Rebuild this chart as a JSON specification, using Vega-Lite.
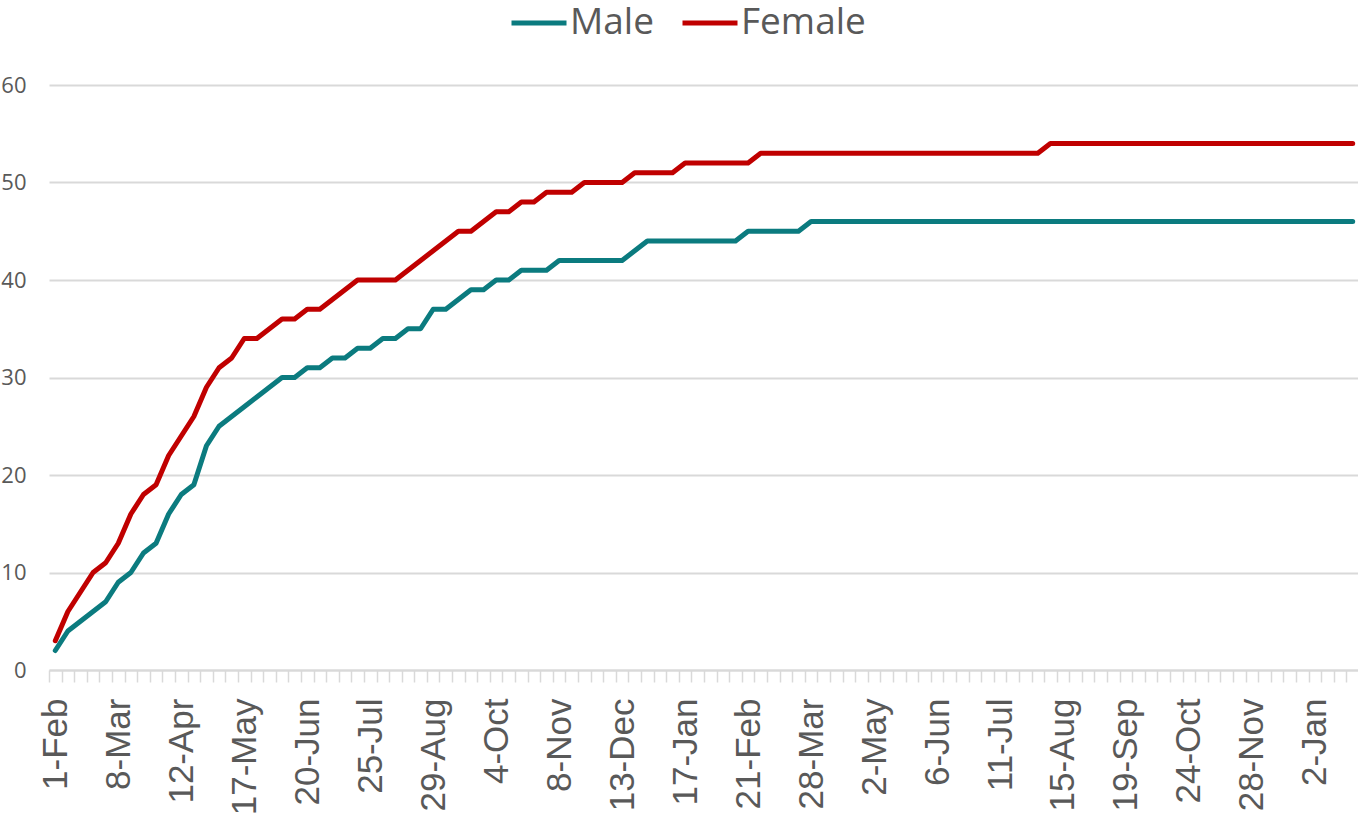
{
  "$schema": "https://vega.github.io/schema/vega-lite/v6.json",
  "width": 1310,
  "height": 585,
  "autosize": "none",
  "padding": {"left": 49, "top": 85, "right": 0, "bottom": 162},
  "background": "white",
  "data": {
    "values": [
      {"d": "2021-02-01", "Male": 2, "Female": 3},
      {"d": "2021-02-08", "Male": 4, "Female": 6},
      {"d": "2021-02-15", "Male": 5, "Female": 8},
      {"d": "2021-02-22", "Male": 6, "Female": 10},
      {"d": "2021-03-01", "Male": 7, "Female": 11},
      {"d": "2021-03-08", "Male": 9, "Female": 13},
      {"d": "2021-03-15", "Male": 10, "Female": 16},
      {"d": "2021-03-22", "Male": 12, "Female": 18},
      {"d": "2021-03-29", "Male": 13, "Female": 19},
      {"d": "2021-04-05", "Male": 16, "Female": 22},
      {"d": "2021-04-12", "Male": 18, "Female": 24},
      {"d": "2021-04-19", "Male": 19, "Female": 26},
      {"d": "2021-04-26", "Male": 23, "Female": 29},
      {"d": "2021-05-03", "Male": 25, "Female": 31},
      {"d": "2021-05-10", "Male": 26, "Female": 32},
      {"d": "2021-05-17", "Male": 27, "Female": 34},
      {"d": "2021-05-24", "Male": 28, "Female": 34},
      {"d": "2021-05-31", "Male": 29, "Female": 35},
      {"d": "2021-06-07", "Male": 30, "Female": 36},
      {"d": "2021-06-14", "Male": 30, "Female": 36},
      {"d": "2021-06-20", "Male": 31, "Female": 37},
      {"d": "2021-06-27", "Male": 31, "Female": 37},
      {"d": "2021-07-04", "Male": 32, "Female": 38},
      {"d": "2021-07-11", "Male": 32, "Female": 39},
      {"d": "2021-07-18", "Male": 33, "Female": 40},
      {"d": "2021-07-25", "Male": 33, "Female": 40},
      {"d": "2021-08-01", "Male": 34, "Female": 40},
      {"d": "2021-08-08", "Male": 34, "Female": 40},
      {"d": "2021-08-15", "Male": 35, "Female": 41},
      {"d": "2021-08-22", "Male": 35, "Female": 42},
      {"d": "2021-08-29", "Male": 37, "Female": 43},
      {"d": "2021-09-05", "Male": 37, "Female": 44},
      {"d": "2021-09-12", "Male": 38, "Female": 45},
      {"d": "2021-09-19", "Male": 39, "Female": 45},
      {"d": "2021-09-26", "Male": 39, "Female": 46},
      {"d": "2021-10-04", "Male": 40, "Female": 47},
      {"d": "2021-10-11", "Male": 40, "Female": 47},
      {"d": "2021-10-18", "Male": 41, "Female": 48},
      {"d": "2021-10-25", "Male": 41, "Female": 48},
      {"d": "2021-11-01", "Male": 41, "Female": 49},
      {"d": "2021-11-08", "Male": 42, "Female": 49},
      {"d": "2021-11-15", "Male": 42, "Female": 49},
      {"d": "2021-11-22", "Male": 42, "Female": 50},
      {"d": "2021-11-29", "Male": 42, "Female": 50},
      {"d": "2021-12-06", "Male": 42, "Female": 50},
      {"d": "2021-12-13", "Male": 42, "Female": 50},
      {"d": "2021-12-20", "Male": 43, "Female": 51},
      {"d": "2021-12-27", "Male": 44, "Female": 51},
      {"d": "2022-01-03", "Male": 44, "Female": 51},
      {"d": "2022-01-10", "Male": 44, "Female": 51},
      {"d": "2022-01-17", "Male": 44, "Female": 52},
      {"d": "2022-01-24", "Male": 44, "Female": 52},
      {"d": "2022-01-31", "Male": 44, "Female": 52},
      {"d": "2022-02-07", "Male": 44, "Female": 52},
      {"d": "2022-02-14", "Male": 44, "Female": 52},
      {"d": "2022-02-21", "Male": 45, "Female": 52},
      {"d": "2022-02-28", "Male": 45, "Female": 53},
      {"d": "2022-03-07", "Male": 45, "Female": 53},
      {"d": "2022-03-14", "Male": 45, "Female": 53},
      {"d": "2022-03-21", "Male": 45, "Female": 53},
      {"d": "2022-03-28", "Male": 46, "Female": 53},
      {"d": "2022-04-04", "Male": 46, "Female": 53},
      {"d": "2022-04-11", "Male": 46, "Female": 53},
      {"d": "2022-04-18", "Male": 46, "Female": 53},
      {"d": "2022-04-25", "Male": 46, "Female": 53},
      {"d": "2022-05-02", "Male": 46, "Female": 53},
      {"d": "2022-05-09", "Male": 46, "Female": 53},
      {"d": "2022-05-16", "Male": 46, "Female": 53},
      {"d": "2022-05-23", "Male": 46, "Female": 53},
      {"d": "2022-05-30", "Male": 46, "Female": 53},
      {"d": "2022-06-06", "Male": 46, "Female": 53},
      {"d": "2022-06-13", "Male": 46, "Female": 53},
      {"d": "2022-06-20", "Male": 46, "Female": 53},
      {"d": "2022-06-27", "Male": 46, "Female": 53},
      {"d": "2022-07-04", "Male": 46, "Female": 53},
      {"d": "2022-07-11", "Male": 46, "Female": 53},
      {"d": "2022-07-18", "Male": 46, "Female": 53},
      {"d": "2022-07-25", "Male": 46, "Female": 53},
      {"d": "2022-08-01", "Male": 46, "Female": 53},
      {"d": "2022-08-08", "Male": 46, "Female": 54},
      {"d": "2022-08-15", "Male": 46, "Female": 54},
      {"d": "2022-08-22", "Male": 46, "Female": 54},
      {"d": "2022-08-29", "Male": 46, "Female": 54},
      {"d": "2022-09-05", "Male": 46, "Female": 54},
      {"d": "2022-09-12", "Male": 46, "Female": 54},
      {"d": "2022-09-19", "Male": 46, "Female": 54},
      {"d": "2022-09-26", "Male": 46, "Female": 54},
      {"d": "2022-10-03", "Male": 46, "Female": 54},
      {"d": "2022-10-10", "Male": 46, "Female": 54},
      {"d": "2022-10-17", "Male": 46, "Female": 54},
      {"d": "2022-10-24", "Male": 46, "Female": 54},
      {"d": "2022-10-31", "Male": 46, "Female": 54},
      {"d": "2022-11-07", "Male": 46, "Female": 54},
      {"d": "2022-11-14", "Male": 46, "Female": 54},
      {"d": "2022-11-21", "Male": 46, "Female": 54},
      {"d": "2022-11-28", "Male": 46, "Female": 54},
      {"d": "2022-12-05", "Male": 46, "Female": 54},
      {"d": "2022-12-12", "Male": 46, "Female": 54},
      {"d": "2022-12-19", "Male": 46, "Female": 54},
      {"d": "2022-12-26", "Male": 46, "Female": 54},
      {"d": "2023-01-02", "Male": 46, "Female": 54},
      {"d": "2023-01-09", "Male": 46, "Female": 54},
      {"d": "2023-01-16", "Male": 46, "Female": 54},
      {"d": "2023-01-23", "Male": 46, "Female": 54}
    ]
  },
  "transform": [
    {"fold": ["Male", "Female"], "as": ["sex", "count"]}
  ],
  "mark": {
    "type": "line",
    "strokeWidth": 5,
    "strokeCap": "round",
    "strokeJoin": "round",
    "clip": false
  },
  "encoding": {
    "x": {
      "field": "d",
      "type": "ordinal",
      "bandPosition": 0.5,
      "scale": {"type": "band", "paddingInner": 0, "paddingOuter": 0},
      "axis": {
        "title": null,
        "tickBand": "extent",
        "ticks": true,
        "tickSize": 12,
        "tickWidth": 1.5,
        "tickColor": "#d9d9d9",
        "domain": true,
        "domainColor": "#d9d9d9",
        "domainWidth": 2,
        "grid": false,
        "labelAngle": 270,
        "labelFont": "Liberation Sans",
        "labelFontSize": 35,
        "labelColor": "#595959",
        "labelPadding": 16,
        "labelOverlap": false,
        "labelBound": false,
        "labelLimit": 300,
        "labelExpr": "indexof(['2021-02-01','2021-03-08','2021-04-12','2021-05-17','2021-06-20','2021-07-25','2021-08-29','2021-10-04','2021-11-08','2021-12-13','2022-01-17','2022-02-21','2022-03-28','2022-05-02','2022-06-06','2022-07-11','2022-08-15','2022-09-19','2022-10-24','2022-11-28','2023-01-02'], datum.value) >= 0 ? utcFormat(toDate(datum.value), '%-d-%b') : ''"
      }
    },
    "y": {
      "field": "count",
      "type": "quantitative",
      "scale": {"domain": [0, 60], "nice": false},
      "axis": {
        "title": null,
        "values": [0, 10, 20, 30, 40, 50, 60],
        "domain": false,
        "ticks": false,
        "grid": true,
        "gridColor": "#d9d9d9",
        "gridWidth": 1.8,
        "labelFont": "Open Sans",
        "labelFontSize": 22,
        "labelColor": "#595959",
        "labelPadding": 23
      }
    },
    "color": {
      "field": "sex",
      "type": "nominal",
      "scale": {"domain": ["Male", "Female"], "range": ["#0B7B7F", "#C00000"]},
      "legend": {
        "title": null,
        "orient": "none",
        "direction": "horizontal",
        "legendX": 460,
        "legendY": -92,
        "padding": 0,
        "symbolType": "stroke",
        "symbolSize": 3025,
        "symbolStrokeWidth": 5,
        "labelFont": "Open Sans",
        "labelFontSize": 37,
        "labelColor": "#595959",
        "labelOffset": 1,
        "columnPadding": 18,
        "labelLimit": 400
      }
    }
  },
  "config": {
    "view": {"stroke": null}
  }
}
